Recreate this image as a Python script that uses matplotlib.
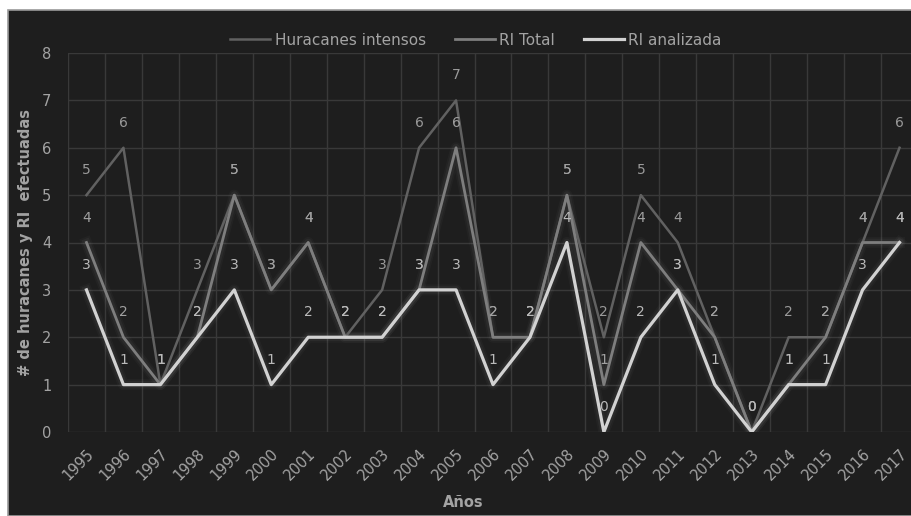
import numpy as np
import matplotlib.pyplot as plt
from matplotlib.patches import Rectangle

# hurricane counts and recon flights per year
years = [str(y) for y in range(1995, 2018)]
intensos = [5, 6, 1, 3, 5, 3, 4, 2, 3, 6, 7, 2, 2, 5, 2, 5, 4, 2, 0, 2, 2, 4, 6]
ri_total = [4, 2, 1, 2, 5, 3, 4, 2, 2, 3, 6, 2, 2, 5, 1, 4, 3, 2, 0, 1, 2, 4, 4]
ri_analizada = [3, 1, 1, 2, 3, 1, 2, 2, 2, 3, 3, 1, 2, 4, 0, 2, 3, 1, 0, 1, 1, 3, 4]

bg = '#1e1e1e'
txt = '#a3a3a3'

fig = plt.figure(figsize=(9.11, 5.16), dpi=100, facecolor='white')
fig.add_artist(Rectangle((8 / 911, 0), 1, (516 - 10) / 516, transform=fig.transFigure,
                         facecolor=bg, edgecolor='#9a9a9a', lw=1.2, zorder=-5))

ax = fig.add_axes([68 / 911, 84 / 516, 850 / 911, 379 / 516])
ax.set_facecolor(bg)
x = np.arange(len(years))

series = [
    (intensos, 'Huracanes intensos', '#616161', 1.8, '#9a9a9a', False),
    (ri_total, 'RI Total', '#7e7e7e', 2.0, '#a0a0a0', True),
    (ri_analizada, 'RI analizada', '#d2d2d2', 2.3, '#bababa', True),
]

for vals, name, col, lw, lab_col, glow in series:
    if glow:
        for w, a in [(8, 0.025), (5.5, 0.04)]:
            ax.plot(x, vals, color='white', lw=w, alpha=a, zorder=2)
    ax.plot(x, vals, color=col, lw=lw, label=name, zorder=3)
    for xi, v in zip(x, vals):
        ax.annotate(str(v), (xi, v), xytext=(0, 18), textcoords='offset points',
                    ha='center', va='center', fontsize=10, color=lab_col, zorder=4)

ax.set_xlim(-0.5, len(years) - 0.5)
ax.set_ylim(0, 8)
ax.set_yticks(range(0, 9))
ax.set_xticks(x)
ax.set_xticklabels(years, rotation=45, ha='right', va='top', rotation_mode='anchor')
ax.set_xticks(np.arange(-0.5, len(years)), minor=True)
ax.tick_params(axis='both', which='both', length=0, colors=txt, labelsize=10.5)
ax.tick_params(axis='y', pad=12)
ax.tick_params(axis='x', pad=10)
ax.grid(axis='y', which='major', color='#393939', lw=1)
ax.grid(axis='x', which='minor', color='#393939', lw=1)
ax.set_axisbelow(True)
for s in ax.spines.values():
    s.set_visible(False)

ax.set_xlabel('Años', color=txt, fontsize=10.5, fontweight='bold')
ax.xaxis.set_label_coords(0.465, -0.165)
ax.set_ylabel('# de huracanes y RI  efectuadas', color=txt, fontsize=10.5,
              fontweight='bold')
ax.yaxis.set_label_coords(-0.041, 0.5)

leg = ax.legend(loc='center', bbox_to_anchor=(0.48, 1.034), ncol=3, frameon=False,
                fontsize=11, labelcolor=txt, handlelength=2.6, columnspacing=1.9,
                handletextpad=0.3)

fig.savefig('out.png', dpi=100, facecolor=fig.get_facecolor())
